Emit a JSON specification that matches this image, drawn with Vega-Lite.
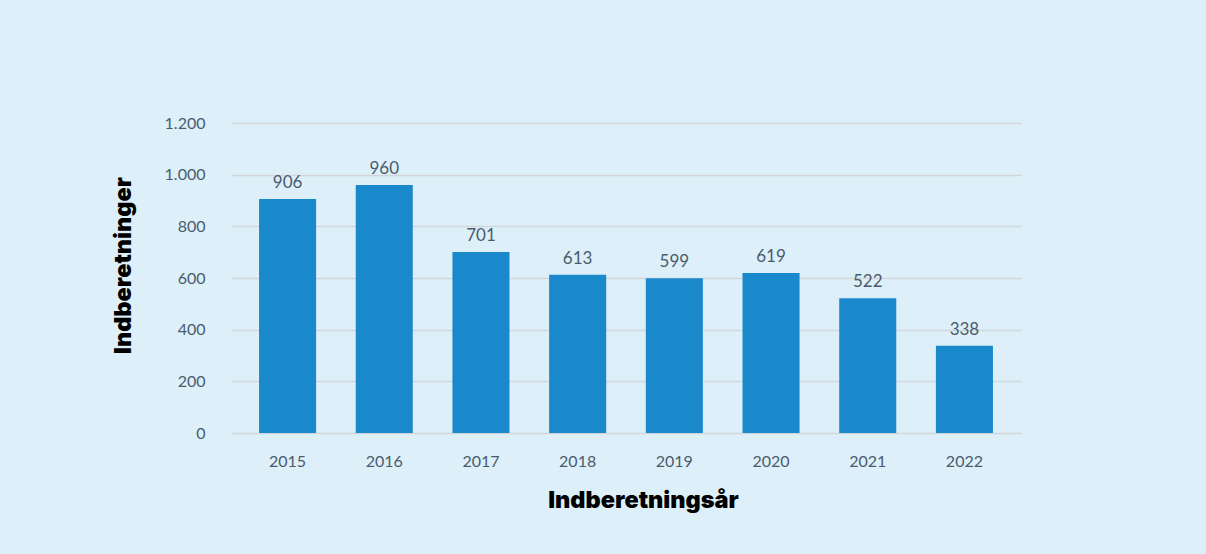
{
  "$schema": "https://vega.github.io/schema/vega-lite/v6.json",
  "autosize": {"type": "none"},
  "width": 790,
  "height": 310,
  "padding": {"left": 231, "top": 123, "right": 185, "bottom": 121},
  "background": "#ddf0f9",
  "data": {
    "values": [
      {"year": "2015", "count": 906},
      {"year": "2016", "count": 960},
      {"year": "2017", "count": 701},
      {"year": "2018", "count": 613},
      {"year": "2019", "count": 599},
      {"year": "2020", "count": 619},
      {"year": "2021", "count": 522},
      {"year": "2022", "count": 338}
    ]
  },
  "encoding": {
    "x": {
      "field": "year",
      "type": "ordinal",
      "scale": {"paddingInner": 0.41, "paddingOuter": 0.29},
      "axis": {
        "title": "Indberetningsår",
        "labelAngle": 0,
        "labelPadding": 20,
        "titlePadding": 19,
        "titleX": 412
      }
    },
    "y": {
      "field": "count",
      "type": "quantitative",
      "scale": {"domain": [0, 1200]},
      "axis": {
        "title": "Indberetninger",
        "values": [0, 200, 400, 600, 800, 1000, 1200],
        "format": ",d",
        "labelPadding": 26,
        "titlePadding": 29,
        "titleY": 142,
        "grid": true
      }
    }
  },
  "layer": [
    {"mark": {"type": "bar", "color": "#1a89cc"}},
    {
      "mark": {"type": "text", "baseline": "alphabetic", "dy": -11, "fontSize": 17, "font": "Lato", "color": "#4a5b6e"},
      "encoding": {"text": {"field": "count", "type": "quantitative"}}
    }
  ],
  "config": {
    "locale": {"number": {"decimal": ",", "thousands": ".", "grouping": [3], "currency": ["", " kr."]}},
    "view": {"stroke": null},
    "axis": {
      "domain": false,
      "ticks": false,
      "gridColor": "#d2d6da",
      "gridWidth": 1.5,
      "labelFont": "Lato",
      "labelFontSize": 16,
      "labelColor": "#4a5b6e",
      "titleFont": "Inter",
      "titleFontSize": 23.5,
      "titleFontWeight": 900,
      "titleColor": "#000000"
    },
    "axisX": {"grid": false}
  }
}
